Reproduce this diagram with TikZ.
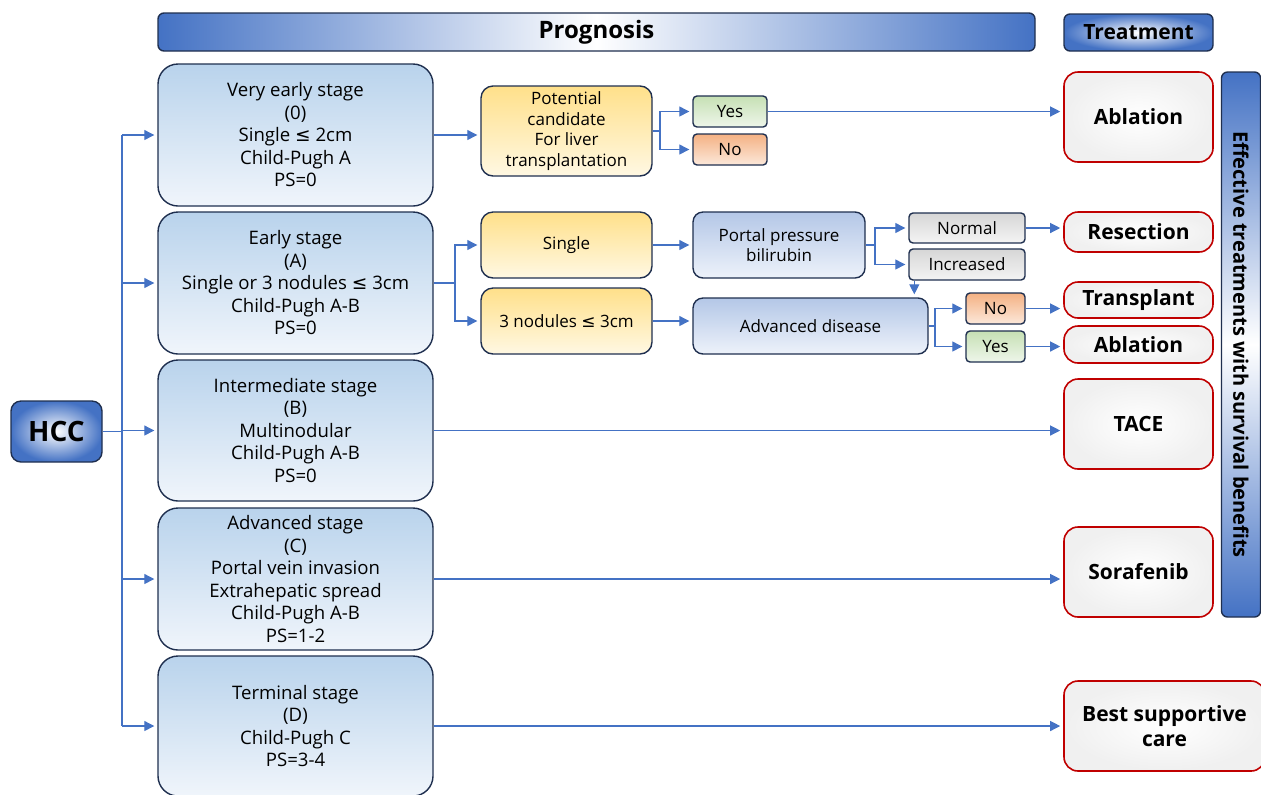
\documentclass[tikz,border=0pt]{standalone}
\usepackage{fontspec}
\setmainfont{Open Sans}
\newfontfamily\symfont{DejaVu Sans}
\newcommand{\lesym}{{\symfont ≤}}
\usetikzlibrary{arrows.meta}
\definecolor{flowblue}{HTML}{4472C4}
\definecolor{boxline}{HTML}{1F2F4F}
\definecolor{stagetop}{HTML}{B9D3EC}
\definecolor{stagebot}{HTML}{F0F5FB}
\definecolor{goldtop}{HTML}{FFE08A}
\definecolor{goldbot}{HTML}{FFF8E3}
\definecolor{steeltop}{HTML}{B4C7E7}
\definecolor{steelbot}{HTML}{EDF2FA}
\definecolor{greentop}{HTML}{C6E0B4}
\definecolor{greenbot}{HTML}{EEF6EA}
\definecolor{orangetop}{HTML}{F4B183}
\definecolor{orangebot}{HTML}{FCE8DA}
\definecolor{greytop}{HTML}{D6D6D6}
\definecolor{greybot}{HTML}{F4F4F4}
\definecolor{therapyred}{HTML}{C00000}

\begin{document}
\begin{tikzpicture}[x=0.5pt,y=-0.5pt,
    box/.style={draw=boxline,line width=0.7pt,align=center,inner sep=2pt},
    stage/.style={box,rounded corners=10pt,top color=stagetop,bottom color=stagebot,
      minimum width=137.5pt,font=\fontsize{9.3}{11.25}\selectfont},
    gold/.style={box,rounded corners=6pt,top color=goldtop,bottom color=goldbot,
      minimum width=85.5pt,minimum height=33pt,font=\fontsize{8.5}{10.25}\selectfont},
    steel/.style={box,rounded corners=5pt,top color=steeltop,bottom color=steelbot,
      font=\fontsize{8.5}{10.25}\selectfont},
    answer/.style={box,rounded corners=2pt,minimum height=15.5pt,font=\fontsize{8.5}{10}\selectfont},
    yesbox/.style={answer,top color=greentop,bottom color=greenbot},
    nobox/.style={answer,top color=orangetop,bottom color=orangebot},
    greybox/.style={answer,top color=greytop,bottom color=greybot,minimum width=58pt},
    therapy/.style={draw=therapyred,line width=0.8pt,rounded corners=7pt,align=center,
      inner color=white,outer color=black!6,minimum width=74.5pt,
      font=\fontsize{10.5}{12.5}\selectfont\bfseries},
    banner/.style={box,rounded corners=3pt,font=\bfseries},
    link/.style={draw=flowblue,line width=0.6pt},
    arrow/.style={link,-{Triangle[length=5pt,width=5pt]},shorten >=1.5pt}]
  \useasboundingbox (0,0) rectangle (1261,794);

  % headers
  \node[banner,left color=flowblue,right color=flowblue,middle color=white,
    minimum width=438.5pt,minimum height=19pt,font=\fontsize{12}{14}\selectfont\bfseries]
    (prog) at (596.5,32) {Prognosis};
  \node[banner,inner color=white,outer color=flowblue,minimum width=74.5pt,
    minimum height=18.5pt,font=\fontsize{10.5}{12}\selectfont\bfseries]
    (treat) at (1138.5,32.5) {Treatment};
  \node[banner,rotate=-90,top color=flowblue,bottom color=flowblue,middle color=white,
    minimum width=272.5pt,minimum height=19.5pt,font=\fontsize{10}{12}\selectfont\bfseries]
    (benefit) at (1241,344.5) {Effective treatments with survival benefits};

  % root
  \node[banner,rounded corners=5pt,inner color=white,outer color=flowblue,
    minimum width=45.5pt,minimum height=30.5pt,font=\fontsize{14}{16}\selectfont\bfseries]
    (hcc) at (56.5,431.5) {HCC};

  % stages
  \node[stage,minimum height=71pt] (s0) at (295.5,135) {Very early stage\\(0)\\Single \lesym{} 2cm\\Child-Pugh A\\PS=0};
  \node[stage,minimum height=71pt] (sA) at (295.5,283) {Early stage\\(A)\\Single or 3 nodules \lesym{} 3cm\\Child-Pugh A-B\\PS=0};
  \node[stage,minimum height=70.5pt] (sB) at (295.5,430.5) {Intermediate stage\\(B)\\Multinodular\\Child-Pugh A-B\\PS=0};
  \node[stage,minimum height=71pt] (sC) at (295.5,579) {Advanced stage\\(C)\\Portal vein invasion\\Extrahepatic spread\\Child-Pugh A-B\\PS=1-2};
  \node[stage,minimum height=70pt] (sD) at (295.5,726) {Terminal stage\\(D)\\Child-Pugh C\\PS=3-4};

  % middle decisions
  \node[gold,minimum height=45pt] (cand) at (566.5,131) {Potential\\candidate\\For liver\\transplantation};
  \node[gold] (single) at (566.5,245) {Single};
  \node[gold] (nodules) at (566.5,321) {3 nodules \lesym{} 3cm};
  \node[yesbox,minimum width=37pt] (yes1) at (730,111.5) {Yes};
  \node[nobox,minimum width=37pt] (no1) at (730,149.5) {No};
  \node[steel,minimum width=86pt,minimum height=33pt] (portal) at (779,245) {Portal pressure\\bilirubin};
  \node[greybox,minimum height=15pt] (normal) at (967,228) {Normal};
  \node[greybox] (incr) at (967,264.5) {Increased};
  \node[steel,minimum width=117.5pt,minimum height=28pt] (adv) at (810.5,326) {Advanced disease};
  \node[nobox,minimum width=29.5pt] (no2) at (995.5,308.5) {No};
  \node[yesbox,minimum width=29.5pt] (yes2) at (995.5,346.5) {Yes};

  % treatments
  \node[therapy,minimum height=45pt] (abl1) at (1138.5,117) {Ablation};
  \node[therapy,minimum height=20pt] (resec) at (1138.5,232) {Resection};
  \node[therapy,minimum height=18pt] (transp) at (1138.5,300) {Transplant};
  \node[therapy,minimum height=18.5pt] (abl2) at (1138.5,344.5) {Ablation};
  \node[therapy,minimum height=45pt] (tace) at (1138.5,424) {TACE};
  \node[therapy,minimum height=45pt] (sora) at (1138.5,572) {Sorafenib};
  \node[therapy,minimum width=100.5pt,minimum height=45pt] (bsc) at (1164.5,726) {Best supportive\\care};

  % connectors
  \coordinate (hj) at (122,431.5);
  \draw[link] (hcc.east) -- (hj);
  \draw[link] (hj |- s0.west) -- (hj |- sD.west);
  \foreach \s in {s0,sA,sB,sC,sD}
    \draw[arrow] (hj |- \s.west) -- (\s.west);

  \draw[arrow] (s0.east) -- (cand.west |- s0.east);
  \coordinate (cj) at (660,131);
  \draw[link] (cand.east) -- (cj);
  \draw[arrow] (cj) |- (yes1.west);
  \draw[arrow] (cj) |- (no1.west);
  \draw[arrow] (yes1.east) -- (abl1.west |- yes1.east);

  \coordinate (ej) at (455,283);
  \draw[link] (sA.east) -- (ej);
  \draw[arrow] (ej) |- (single.west);
  \draw[arrow] (ej) |- (nodules.west);
  \draw[arrow] (single.east) -- (portal.west);
  \draw[arrow] (nodules.east) -- (adv.west |- nodules.east);

  \coordinate (pj) at (875,245);
  \draw[link] (portal.east) -- (pj);
  \draw[arrow] (pj) |- (normal.west);
  \draw[arrow] (pj) |- (incr.west);
  \draw[arrow] (normal.east) -- (resec.west |- normal.east);
  \draw[arrow] ([xshift=3pt]incr.south west) -- ([xshift=3pt]incr.south west |- adv.north);

  \coordinate (aj) at (935,326);
  \draw[link] (adv.east) -- (aj);
  \draw[arrow] (aj) |- (no2.west);
  \draw[arrow] (aj) |- (yes2.west);
  \draw[arrow] (no2.east) -- (transp.west |- no2.east);
  \draw[arrow] (yes2.east) -- (abl2.west |- yes2.east);

  \draw[arrow] (sB.east) -- (tace.west |- sB.east);
  \draw[arrow] (sC.east) -- (sora.west |- sC.east);
  \draw[arrow] (sD.east) -- (bsc.west |- sD.east);
\end{tikzpicture}
\end{document}
